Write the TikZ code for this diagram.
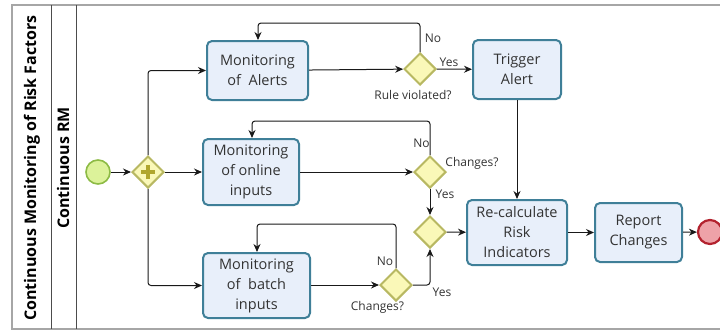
\documentclass[tikz,border=0pt]{standalone}
\usepackage{fontspec}
\setmainfont{Open Sans}
\usetikzlibrary{shapes.geometric,arrows.meta}
\definecolor{taskfill}{HTML}{E8EFFA}
\definecolor{taskline}{HTML}{3F7F98}
\definecolor{gwfill}{HTML}{FAF8B8}
\definecolor{gwline}{HTML}{B8B862}
\definecolor{plusc}{HTML}{B0A62E}
\definecolor{startfill}{HTML}{DCF29A}
\definecolor{startline}{HTML}{8DBB45}
\definecolor{endfill}{HTML}{EEA2A8}
\definecolor{endline}{HTML}{B3222E}
\tikzset{
  task/.style={draw=taskline,fill=taskfill,line width=2pt,rounded corners=5pt,
    align=center,inner sep=0pt,text=black!80,font=\fontsize{14.5}{20}\selectfont},
  gw/.style={diamond,draw=gwline,fill=gwfill,line width=2pt,minimum size=32pt,inner sep=0pt},
  flow/.style={-{Stealth[length=8pt,width=7pt]},rounded corners=3pt,line width=1pt,black!90},
  lbl/.style={font=\fontsize{12}{14}\selectfont,text=black!80,inner sep=0pt},
  lane/.style={rotate=90,font=\bfseries\fontsize{16}{18}\selectfont}
}
\begin{document}
\begin{tikzpicture}[x=1pt,y=-1pt]
\useasboundingbox (0,0) rectangle (720,333);
\draw[black!35,line width=1.5pt] (721,5) -- (12,5) -- (12,329) -- (721,329);
\draw[black!70,line width=1pt] (51,5) -- (51,329) (76,5) -- (76,329);
\node[lane] (pool) at (32,168) {Continuous Monitoring of Risk Factors};
\node[lane] (rm) at (63,168) {Continuous RM};

\node[circle,draw=startline,fill=startfill,line width=1.6pt,minimum size=24pt] (start) at (98,172) {};
\node[gw] (par) at (148,172) {};
\draw[plusc,line width=3.5pt] ([xshift=-7pt]par.center) -- ([xshift=7pt]par.center)
  ([yshift=-7pt]par.center) -- ([yshift=7pt]par.center);

\node[task,minimum width=101pt,minimum height=59pt] (alerts) at (257.5,70.5) {Monitoring\\of~~Alerts};
\node[task,minimum width=96pt,minimum height=66pt] (online) at (251,172) {Monitoring\\of online\\inputs};
\node[task,minimum width=107pt,minimum height=65pt] (batch) at (256.5,285.5) {Monitoring\\of~~batch\\inputs};
\node[task,minimum width=88pt,minimum height=59pt] (trigger) at (517,69.5) {Trigger\\Alert};
\node[task,minimum width=100pt,minimum height=65pt] (recalc) at (517,232.5) {Re-calculate\\Risk\\Indicators};
\node[task,minimum width=87pt,minimum height=59pt] (report) at (638.5,232.5) {Report\\Changes};
\node[circle,draw=endline,fill=endfill,line width=2.2pt,minimum size=24pt] (stop) at (710,232) {};

\node[gw] (rule) at (420,69) {};
\node[gw] (chon) at (430,172) {};
\node[gw] (merge) at (430,232) {};
\node[gw] (chba) at (396,285) {};

\coordinate (ra) at (258,23);
\coordinate (oa) at (252,121);
\coordinate (ba) at (257,224);

\draw[flow] (start) -- (par);
\draw[flow] (par.north) |- (alerts.west);
\draw[flow] (par) -- (online);
\draw[flow] (par.south) |- (batch.west);
\draw[flow] (alerts) -- (rule);
\draw[flow] (rule) -- (trigger);
\draw[flow] (rule.north) |- (ra) -- (alerts.north -| ra);
\draw[flow] (trigger) -- (recalc);
\draw[flow] (online) -- (chon);
\draw[flow] (chon.north) |- (oa) -- (online.north -| oa);
\draw[flow] (chon) -- (merge);
\draw[flow] (batch.east |- chba) -- (chba);
\draw[flow] (chba.north) |- (ba) -- (batch.north -| ba);
\draw[flow] (chba.east) -| (merge.south);
\draw[flow] (merge) -- (recalc);
\draw[flow] (recalc) -- (report);
\draw[flow] (report) -- (stop);

\node[lbl] (rno) at (433,38) {No};
\node[lbl] (ryes) at (449,62) {Yes};
\node[lbl] (rq) at (413,95) {Rule violated?};
\node[lbl] (ono) at (421.5,143) {No};
\node[lbl] (oq) at (472,163) {Changes?};
\node[lbl] (oyes) at (445,194) {Yes};
\node[lbl] (bno) at (385,261) {No};
\node[lbl] (bq) at (377.5,307) {Changes?};
\node[lbl] (byes) at (442,292) {Yes};
\end{tikzpicture}
\end{document}
